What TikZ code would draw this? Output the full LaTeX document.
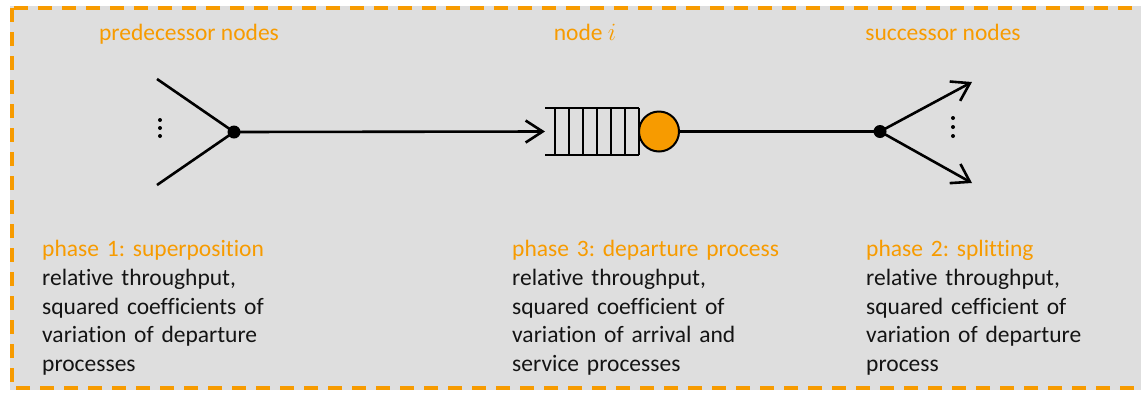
\documentclass[tikz,border=0pt]{standalone}
\usepackage{fontspec}
\setmainfont{Carlito}[Ligatures={NoCommon}, RawFeature={-liga;-clig}]
\usetikzlibrary{arrows.meta}
\definecolor{accent}{RGB}{247,155,0}
\definecolor{panel}{RGB}{222,222,222}
\frenchspacing
\begin{document}
\begin{tikzpicture}[x=1pt,y=-1pt,
  txt/.style={font=\fontsize{23.5}{28.5}\selectfont, inner sep=0pt, anchor=base west, align=left, text width=300pt, text=black!92},
  head/.style={font=\fontsize{23.5}{28.5}\selectfont, inner sep=0pt, anchor=base, text=accent},
  flow/.style={line width=2.6pt, black},
  tip/.style={-{Straight Barb[length=17pt,width=22pt,line width=2.6pt]}},
  junction/.style={circle, fill=black, inner sep=0pt, minimum size=13pt},
  server/.style={circle, draw=black, line width=2pt, fill=accent, inner sep=0pt, minimum size=40pt},
  vdot/.style={circle, fill=black, inner sep=0pt, minimum size=4pt}]
\useasboundingbox (0,0) rectangle (1141,392);
% panel and dashed frame
\fill[panel] (10,6) rectangle (1141,390);
\begin{scope}
  \clip (0,0) rectangle (1141,392);
  \draw[accent, line width=3.4pt, dash pattern=on 14pt off 10pt] (12,8) rectangle (1152,388);
\end{scope}

% headings
\node[head] (hpred) at (189,40) {predecessor nodes};
\node[head] (hnode) at (585,40) {node $i$};
\node[head] (hsucc) at (943,40) {successor nodes};

% superposition of incoming flows
\coordinate (inA) at (157,79);
\coordinate (inB) at (157,185);
\node[junction] (merge) at (234,132) {};
\draw[flow] (inA) -- (merge.center);
\draw[flow] (inB) -- (merge.center);
\node[vdot] (pd1) at (160,120) {};
\node[vdot] (pd2) at (160,128) {};
\node[vdot] (pd3) at (160,136) {};

% queue buffer
\coordinate (qin) at (545,131.5);
\draw[line width=1.8pt] (545,108) -- (639,108) (545,155) -- (639,155);
\foreach \x in {555,569,583,597,611,625,639}
  \draw[line width=1.8pt] (\x,108) -- (\x,155);
\node[server] (srv) at (659,131.5) {};

% splitting into outgoing flows
\node[junction] (split) at (880,131.5) {};
\coordinate (outA) at (972,82);
\coordinate (outB) at (972,183);
\node[vdot] (sd1) at (953,118) {};
\node[vdot] (sd2) at (953,127) {};
\node[vdot] (sd3) at (953,136) {};

\draw[flow, tip] (merge.center) -- (qin);
\draw[flow] (srv.east) -- (split.center);
\draw[flow, tip] (split.center) -- (outA);
\draw[flow, tip] (split.center) -- (outB);

% phase descriptions
\node[txt, text=accent] (p1) at (42,256.7) {phase 1: superposition};
\node[txt] (p1t) at (42,285.7) {relative throughput,\\squared coefficients of\\variation of departure\\processes};
\node[txt, text=accent] (p3) at (512,256.7) {phase 3: departure process};
\node[txt] (p3t) at (512,285.7) {relative throughput,\\squared coefficient of\\variation of arrival and\\service processes};
\node[txt, text=accent] (p2) at (866,256.7) {phase 2: splitting};
\node[txt] (p2t) at (866,285.7) {relative throughput,\\squared cefficient of\\variation of departure\\process};
\end{tikzpicture}
\end{document}
